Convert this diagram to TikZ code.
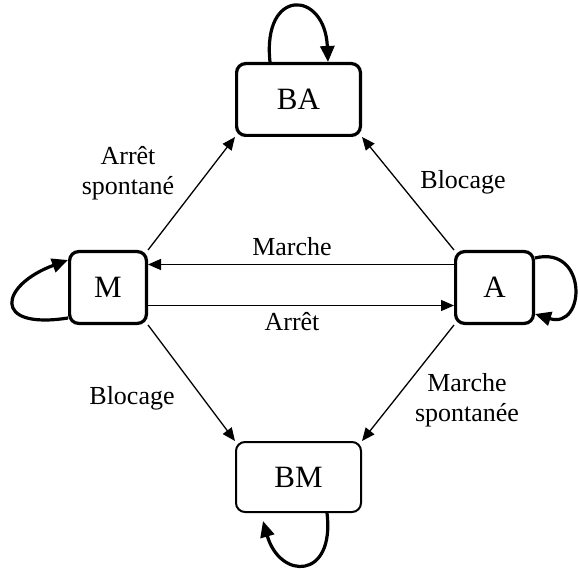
\documentclass[tikz,border=0pt]{standalone}
\usepackage{fontspec}
\setmainfont{Liberation Serif}
\usetikzlibrary{arrows.meta}

\begin{document}
\begin{tikzpicture}[x=1pt,y=-1pt,
        state/.style={draw,line width=3.2pt,rounded corners=9pt,inner sep=0pt,
            minimum height=71.8pt,font=\fontsize{31}{36}\selectfont},
        edge/.style={line width=1.3pt,-{Triangle[length=13pt,width=11pt]}},
        selfloop/.style={line width=3.2pt,-{Triangle[length=16pt,width=14pt]}},
        lbl/.style={align=center,font=\fontsize{26}{30}\selectfont}]
        \useasboundingbox (0,0) rectangle (578,569);
        % states
        \node[state,minimum width=123.8pt] (BA) at (298.5,99.5) {BA};
        \node[state,minimum width=76.8pt] (M) at (108,287.5) {M};
        \node[state,minimum width=77.8pt] (A) at (494.5,287.5) {A};
        \node[state,line width=2pt,minimum width=125pt,minimum height=70pt] (BM) at (298.5,477) {BM};
        % transitions
        \draw[edge] (M.north east) -- (BA.south west);
        \draw[edge] (A.north west) -- (BA.south east);
        \draw[edge] (M.south east) -- (BM.north west);
        \draw[edge] (A.south west) -- (BM.north east);
        \draw[edge] ([yshift=23pt]A.west) -- ([yshift=23pt]M.east);
        \draw[edge] ([yshift=-18pt]M.east) -- ([yshift=-18pt]A.west);
        % self loops
        \draw[selfloop] ([xshift=-28.5pt]BA.north) .. controls +(-8,-75) and +(-3,-72) .. ([xshift=29.5pt]BA.north);
        \draw[selfloop] ([yshift=-30.5pt]M.west) .. controls +(-77,12) and +(-68,25) .. ([yshift=27.5pt]M.west);
        \draw[selfloop] ([yshift=29.5pt]A.east) .. controls +(53,-13) and +(51,16) .. ([yshift=-26.5pt]A.east);
        \draw[selfloop] ([xshift=28.5pt]BM.south) .. controls +(8,67) and +(17,59) .. ([xshift=-35.5pt,yshift=-8pt]BM.south);
        % labels
        \node[lbl] (arretsp) at (128,173) {Arrêt\\spontané};
        \node[lbl] (blochaut) at (463,182) {Blocage};
        \node[lbl] (marche) at (292,247) {Marche};
        \node[lbl] (arret) at (292,322) {Arrêt};
        \node[lbl] (blocbas) at (132,398) {Blocage};
        \node[lbl] (marchesp) at (467,400) {Marche\\spontanée};
\end{tikzpicture}
\end{document}
